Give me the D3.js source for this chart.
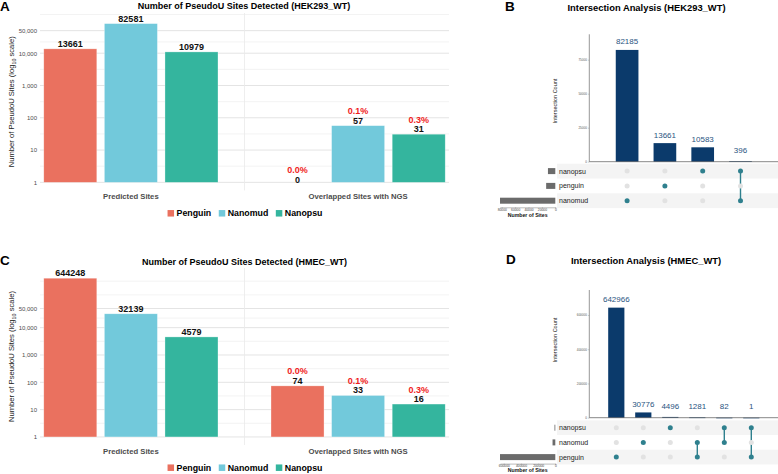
<!DOCTYPE html>
<html><head><meta charset="utf-8">
<script src="https://cdn.jsdelivr.net/npm/d3@7"></script>
<style>
body{margin:0;background:#fff;}
svg{display:block;font-family:"Liberation Sans",Arial,Helvetica,sans-serif;}
</style>
</head><body>
<svg id="chart" width="778" height="474"></svg>
<script>
// ---------------- DATA ----------------
const methods = ["Penguin", "Nanomud", "Nanopsu"];
const methodColors = ["#EA715F", "#72C9DB", "#34B59E"];
const groups = ["Predicted Sites", "Overlapped Sites with NGS"];
const logTicks = [1, 10, 100, 1000, 10000, 50000];

const hekTitle = "Number of PseudoU Sites Detected (HEK293_WT)";
const hekPredicted = [13661, 82581, 10979];
const hekOverlap = [0, 57, 31];
const hekPct = ["0.0%", "0.1%", "0.3%"];

const hmecTitle = "Number of PseudoU Sites Detected (HMEC_WT)";
const hmecPredicted = [644248, 32139, 4579];
const hmecOverlap = [74, 33, 16];
const hmecPct = ["0.0%", "0.1%", "0.3%"];

const upBTitle = "Intersection Analysis (HEK293_WT)";
const upBSets = ["nanopsu", "penguin", "nanomud"];
const upBSetSizes = [10979, 13661, 82581];
const upBCounts = [82185, 13661, 10583, 396];
const upBMembers = [["nanomud"], ["penguin"], ["nanopsu"], ["nanopsu", "nanomud"]];
const upBCountTicks = [0, 25000, 50000, 75000];
const upBSizeTicks = [80000, 60000, 40000, 20000, 0];

const upDTitle = "Intersection Analysis (HMEC_WT)";
const upDSets = ["nanopsu", "nanomud", "penguin"];
const upDSetSizes = [4579, 32139, 644248];
const upDCounts = [642966, 30776, 4496, 1281, 82, 1];
const upDMembers = [["penguin"], ["nanomud"], ["nanopsu"], ["nanomud", "penguin"], ["nanopsu", "nanomud"], ["nanopsu", "penguin"]];
const upDCountTicks = [0, 200000, 400000, 600000];
const upDSizeTicks = [600000, 400000, 200000, 0];

// ---------------- DRAW ----------------
const svg = d3.select("#chart");

function panelLetter(txt, x, y) {
  svg.append("text").attr("x", x).attr("y", y).text(txt)
    .attr("font-size", 13.5).attr("font-weight", "bold").attr("fill", "#000");
}

function barPanel(o) {
  const g = svg.append("g");
  const allVals = o.predicted.concat(o.overlap);
  const lmax = Math.log10(d3.max(allVals) * 1.2);
  const lo = -0.05 * lmax, hi = 1.05 * lmax;
  const y = d3.scaleLog().domain([Math.pow(10, lo), Math.pow(10, hi)]).range([o.bottom, o.top]);
  const x = d3.scaleLinear().domain([0.6, 2.4]).range([o.left, o.right]);

  // minor grid (ggplot-like)
  const b = logTicks.map(Math.log10);
  const bd = b[1] - b[0];
  if (hi > b[b.length - 1]) b.push(b[b.length - 1] + bd);
  const minors = [];
  for (let i = 0; i < b.length - 1; i++) minors.push((b[i] + b[i + 1]) / 2);
  minors.push(b[b.length - 1]);
  g.selectAll(".minor").data(minors.filter(m => m < hi && m > lo)).join("line")
    .attr("x1", o.left).attr("x2", o.right)
    .attr("y1", d => y(Math.pow(10, d))).attr("y2", d => y(Math.pow(10, d)))
    .attr("stroke", "#F0F0F0").attr("stroke-width", 0.8);
  g.selectAll(".major").data(logTicks).join("line")
    .attr("x1", o.left).attr("x2", o.right)
    .attr("y1", d => y(d)).attr("y2", d => y(d))
    .attr("stroke", "#E4E4E4").attr("stroke-width", 1);
  // vertical separator grid
  g.append("line").attr("x1", x(1.5)).attr("x2", x(1.5))
    .attr("y1", o.top).attr("y2", o.bottom)
    .attr("stroke", "#EAEAEA").attr("stroke-width", 0.8);

  // y axis labels
  const ax = g.append("g").attr("transform", `translate(${o.left},0)`)
    .call(d3.axisLeft(y).tickValues(logTicks).tickFormat(d3.format(",")).tickSize(0).tickPadding(3));
  ax.select(".domain").remove();
  ax.selectAll("text").attr("font-size", 6).attr("fill", "#4D4D4D")
    .attr("font-family", '"Liberation Sans",Arial,sans-serif');

  // y axis title
  const yt = g.append("text")
    .attr("transform", `translate(${o.yTitleX},${(o.top + o.bottom) / 2}) rotate(-90)`)
    .attr("text-anchor", "middle").attr("font-size", 7.6).attr("fill", "#1a1a1a");
  yt.append("tspan").text("Number of PseudoU Sites (log");
  yt.append("tspan").text("10").attr("font-size", 5.4).attr("dy", 1.8);
  yt.append("tspan").text(" scale)").attr("dy", -1.8);

  // bars
  const dodge = 0.8 / 3, bw = 0.7 / 3;
  const data = [];
  [o.predicted, o.overlap].forEach((vals, gi) => {
    vals.forEach((v, j) => data.push({ g: gi + 1, j, v, pct: gi === 1 ? o.pct[j] : null }));
  });
  const cx = d => d.g + (d.j - 1) * dodge;
  g.selectAll(".bar").data(data.filter(d => d.v >= 1)).join("rect")
    .attr("x", d => x(cx(d) - bw / 2)).attr("width", d => x(bw) - x(0))
    .attr("y", d => y(d.v)).attr("height", d => y(1) - y(d.v))
    .attr("fill", d => methodColors[d.j]).attr("stroke", "#ffffff").attr("stroke-opacity", 0.5).attr("stroke-width", 0.6);

  g.selectAll(".cnt").data(data).join("text")
    .attr("x", d => x(cx(d))).attr("y", d => y(Math.max(d.v, 1)) - (d.v >= 1 ? 2 : -0.3))
    .attr("text-anchor", "middle").attr("font-size", 9).attr("font-weight", "bold").attr("fill", "#111")
    .text(d => d.v);
  g.selectAll(".pct").data(data.filter(d => d.pct)).join("text")
    .attr("x", d => x(cx(d))).attr("y", d => y(Math.max(d.v, 1)) - (d.v >= 1 ? 2 : -0.3) - 9.4)
    .attr("text-anchor", "middle").attr("font-size", 9).attr("font-weight", "bold").attr("fill", "#F01C1C")
    .text(d => d.pct);

  // x category labels
  g.selectAll(".cat").data(groups).join("text")
    .attr("x", (d, i) => x(i + 1)).attr("y", o.bottom + 9)
    .attr("text-anchor", "middle").attr("font-size", 7.7).attr("font-weight", "bold").attr("fill", "#4D4D4D")
    .text(d => d);

  // title
  g.append("text").attr("x", o.titleX).attr("y", o.titleY).attr("text-anchor", "middle")
    .attr("font-size", 9).attr("font-weight", "bold").attr("fill", "#000").text(o.title);

  // legend
  const lg = g.append("g");
  let cur = 0;
  const ks = 6.5;
  methods.forEach((m, i) => {
    lg.append("rect").attr("x", cur).attr("y", -ks / 2).attr("width", ks).attr("height", ks).attr("fill", methodColors[i]);
    const t = lg.append("text").attr("x", cur + ks + 2.5).attr("y", 3.1).attr("font-size", 8.8)
      .attr("font-weight", "bold").attr("fill", "#000").text(m);
    cur += ks + 2.5 + t.node().getComputedTextLength() + 7.5;
  });
  cur -= 7.5;
  lg.attr("transform", `translate(${o.legendCX - cur / 2},${o.legendY})`);
}

function upset(o) {
  const g = svg.append("g");
  const n = o.counts.length;
  const x = d3.scalePoint().domain(d3.range(n)).range([o.axisX, o.right]).padding(1);
  const step = x.step();
  const y = d3.scaleLinear().domain([0, o.countMax]).range([o.base, o.axisTop]);

  // title
  g.append("text").attr("x", o.titleX).attr("y", o.titleY).attr("text-anchor", "middle")
    .attr("font-size", 9.4).attr("font-weight", "bold").attr("fill", "#000").text(o.title);

  // matrix stripes
  const rowY = i => o.base + o.rowOffset + i * o.rowStep;
  o.sets.forEach((s, i) => {
    if (i % 2 === 0) {
      g.append("rect").attr("x", o.stripeX).attr("width", o.right - o.stripeX)
        .attr("y", rowY(i) - o.rowStep / 2).attr("height", o.rowStep).attr("fill", "#F4F4F4");
    }
  });

  // bars
  g.selectAll(".ibar").data(o.counts).join("rect")
    .attr("x", (d, i) => x(i) - step * 0.3).attr("width", step * 0.6)
    .attr("y", d => y(d)).attr("height", d => Math.max(o.base - y(d), 0.6))
    .attr("fill", "#0B3A6B");
  g.selectAll(".ilab").data(o.counts).join("text")
    .attr("x", (d, i) => x(i)).attr("y", d => Math.min(y(d), o.base - 3.5) - 5.5)
    .attr("text-anchor", "middle").attr("font-size", 8).attr("fill", "#2A5481").text(d => d);

  // axes
  g.append("line").attr("x1", o.axisX).attr("x2", o.axisX).attr("y1", o.axisTop).attr("y2", o.base)
    .attr("stroke", "#6a6a6a").attr("stroke-width", 0.7);
  g.append("line").attr("x1", o.axisX).attr("x2", o.right).attr("y1", o.base).attr("y2", o.base)
    .attr("stroke", "#555").attr("stroke-width", 0.7);
  const yax = g.append("g").attr("transform", `translate(${o.axisX},0)`)
    .call(d3.axisLeft(y).tickValues(o.countTicks).tickFormat(d3.format("d")).tickSize(1.5).tickPadding(1));
  yax.select(".domain").remove();
  yax.selectAll("line").attr("stroke", "#888").attr("stroke-width", 0.4);
  yax.selectAll("text").attr("font-size", 3).attr("fill", "#555")
    .attr("font-family", '"Liberation Sans",Arial,sans-serif');
  g.append("text").attr("transform", `translate(${o.yTitleX},${o.yTitleY}) rotate(-90)`)
    .attr("text-anchor", "middle").attr("font-size", 5.5).attr("fill", "#222").text("Intersection Count");

  // matrix dots
  const setIndex = s => o.sets.indexOf(s);
  o.members.forEach((mem, i) => {
    const idx = mem.map(setIndex);
    if (idx.length > 1) {
      g.append("line").attr("x1", x(i)).attr("x2", x(i))
        .attr("y1", rowY(d3.min(idx))).attr("y2", rowY(d3.max(idx)))
        .attr("stroke", "#2F808E").attr("stroke-width", 1.4);
    }
    o.sets.forEach((s, r) => {
      const on = idx.includes(r);
      g.append("circle").attr("cx", x(i)).attr("cy", rowY(r)).attr("r", 2.5)
        .attr("fill", on ? "#2F808E" : "#E2E2E2");
    });
  });

  // set labels
  g.selectAll(".slab").data(o.sets).join("text")
    .attr("x", o.labelX).attr("y", (d, i) => rowY(i) + 2.4)
    .attr("font-size", 7).attr("fill", "#222").text(d => d);

  // set size bars
  const sx = d3.scaleLinear().domain([0, d3.max(o.setSizes)]).range([o.sizeRight, o.sizeLeft]);
  g.selectAll(".sbar").data(o.setSizes).join("rect")
    .attr("x", d => Math.min(sx(d), o.sizeRight - 0.8)).attr("width", d => Math.max(o.sizeRight - sx(d), 0.8))
    .attr("y", (d, i) => rowY(i) - 3).attr("height", 6).attr("fill", "#6B6B6B");
  const axY = rowY(o.sets.length - 1) + o.sizeAxisOffset;
  const sax = g.append("g").attr("transform", `translate(0,${axY})`)
    .call(d3.axisBottom(sx).tickValues(o.sizeTicks).tickFormat(d3.format("d")).tickSize(1).tickPadding(0.5));
  sax.select(".domain").attr("stroke", "#777").attr("stroke-width", 0.5);
  sax.selectAll("line").attr("stroke", "#777").attr("stroke-width", 0.4);
  sax.selectAll("text").attr("font-size", 3.3).attr("fill", "#444")
    .attr("font-family", '"Liberation Sans",Arial,sans-serif');
  g.append("text").attr("x", (o.sizeLeft + o.sizeRight) / 2).attr("y", axY + o.sizeTitleOffset)
    .attr("text-anchor", "middle").attr("font-size", 5.2).attr("font-weight", "bold").attr("fill", "#111")
    .text("Number of Sites");
}

// Panel A
panelLetter("A", 0, 10.5);
barPanel({ title: hekTitle, predicted: hekPredicted, overlap: hekOverlap, pct: hekPct,
  left: 40, right: 449, top: 13, bottom: 190.4, titleX: 244, titleY: 9.3, yTitleX: 14,
  legendCX: 245, legendY: 213.3 });
// Panel C
panelLetter("C", 0, 265);
barPanel({ title: hmecTitle, predicted: hmecPredicted, overlap: hmecOverlap, pct: hmecPct,
  left: 40, right: 449, top: 268, bottom: 445, titleX: 244.5, titleY: 264.5, yTitleX: 14,
  legendCX: 245, legendY: 467.7 });

// Panel B
panelLetter("B", 505, 11);
upset({ title: upBTitle, sets: upBSets, setSizes: upBSetSizes, counts: upBCounts, members: upBMembers,
  countTicks: upBCountTicks, sizeTicks: upBSizeTicks,
  countMax: 93676, axisX: 589.3, right: 778.3, base: 161.7, axisTop: 34.3,
  titleX: 646.5, titleY: 11, yTitleX: 557, yTitleY: 101,
  rowOffset: 9.4, rowStep: 14.8, stripeX: 557, labelX: 559,
  sizeLeft: 500, sizeRight: 555.3, sizeAxisOffset: 6.6, sizeTitleOffset: 9.8 });
// Panel D
panelLetter("D", 506, 264);
upset({ title: upDTitle, sets: upDSets, setSizes: upDSetSizes, counts: upDCounts, members: upDMembers,
  countTicks: upDCountTicks, sizeTicks: upDSizeTicks,
  countMax: 746000, axisX: 589.3, right: 778.3, base: 417.7, axisTop: 290,
  titleX: 646, titleY: 264, yTitleX: 557, yTitleY: 340,
  rowOffset: 10, rowStep: 14.7, stripeX: 557, labelX: 559,
  sizeLeft: 500, sizeRight: 555.3, sizeAxisOffset: 6.5, sizeTitleOffset: 8.3 });
</script>
</body></html>
